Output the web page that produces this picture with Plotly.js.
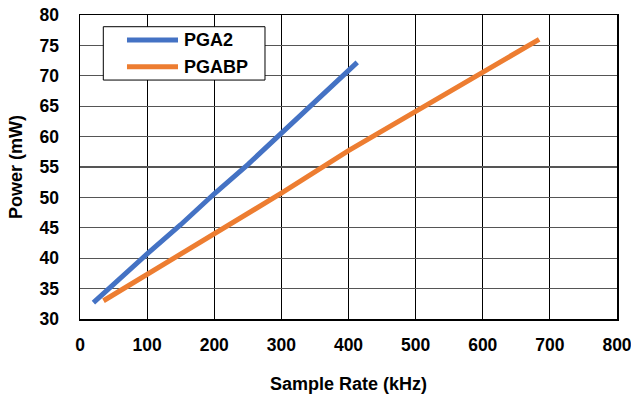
<!DOCTYPE html>
<html><head><meta charset="utf-8">
<script src="https://cdn.plot.ly/plotly-3.0.1.min.js"></script>
<style>html,body{margin:0;padding:0;background:#fff}#chart{width:631px;height:400px}</style>
</head><body><div id="chart"></div>
<script>
const pga2X = [20, 50, 100, 150, 200, 250, 300, 350, 400, 413];
const pga2Y = [32.7, 35.8, 40.7, 45.5, 50.6, 55.4, 60.5, 65.8, 70.9, 72.2];
const pgabpX = [35, 100, 200, 300, 400, 500, 600, 684];
const pgabpY = [33.0, 37.3, 43.9, 50.7, 57.7, 64.1, 70.4, 76.0];
const seriesNames = ["PGA2", "PGABP"];
const xTicks = [0, 100, 200, 300, 400, 500, 600, 700, 800];
const yTicks = [30, 35, 40, 45, 50, 55, 60, 65, 70, 75, 80];

const fam = "Liberation Sans, Arial, sans-serif";
const tickFont = {family: fam, size: 17.5, color: "#000"};
const titleFont = {family: fam, size: 18, color: "#000"};
const colors = ["#4472C4", "#ED7D31"];
const traces = [
  {x: pga2X, y: pga2Y, name: seriesNames[0], mode: "lines", line: {color: colors[0], width: 5}, showlegend: false},
  {x: pgabpX, y: pgabpY, name: seriesNames[1], mode: "lines", line: {color: colors[1], width: 5}, showlegend: false}
];
const legX0 = 0.0434, legX1 = 0.3445, legY0 = 0.786, legY1 = 0.9615;
const rowY = [0.918, 0.830];
const shapes = [
  {type: "rect", xref: "paper", yref: "paper", x0: legX0, x1: legX1, y0: legY0, y1: legY1, line: {color: "#000", width: 1}, fillcolor: "#fff", layer: "above"}
];
const annotations = [];
seriesNames.forEach((n, i) => {
  shapes.push({type: "line", xref: "paper", yref: "paper", x0: 0.0875, x1: 0.1825, y0: rowY[i], y1: rowY[i], line: {color: colors[i], width: 5}, layer: "above"});
  annotations.push({xref: "paper", yref: "paper", x: 0.190, y: rowY[i], text: "<b>" + n + "</b>", showarrow: false, xanchor: "left", yanchor: "middle", font: titleFont});
});
const layout = {
  width: 631, height: 400,
  margin: {l: 80, r: 14, t: 15, b: 81},
  paper_bgcolor: "#fff", plot_bgcolor: "#fff",
  font: tickFont,
  showlegend: false,
  xaxis: {
    range: [0, 800], tickvals: xTicks, ticktext: xTicks.map(v => "<b>" + v + "</b>"),
    showgrid: true, gridcolor: "#000", gridwidth: 1.2,
    showline: true, linecolor: "#000", linewidth: 1.5, mirror: true,
    ticks: "", ticklabelstandoff: 9, ticklabeloverflow: "allow", zeroline: false,
    tickfont: tickFont, automargin: false,
    title: {text: "<b>Sample Rate (kHz)</b>", font: titleFont, standoff: 24}
  },
  yaxis: {
    range: [30, 80], tickvals: yTicks, ticktext: yTicks.map(v => "<b>" + v + "</b>"),
    showgrid: true, gridcolor: "#555", gridwidth: 1.2,
    showline: true, linecolor: "#000", linewidth: 1.5, mirror: true,
    ticks: "", ticklabelstandoff: 16, ticklabeloverflow: "allow", zeroline: false,
    tickfont: tickFont, automargin: false,
    title: {text: "<b>Power (mW)</b>", font: titleFont, standoff: 12}
  },
  shapes: shapes,
  annotations: annotations
};
Plotly.newPlot("chart", traces, layout, {displayModeBar: false, staticPlot: true});
</script></body></html>
